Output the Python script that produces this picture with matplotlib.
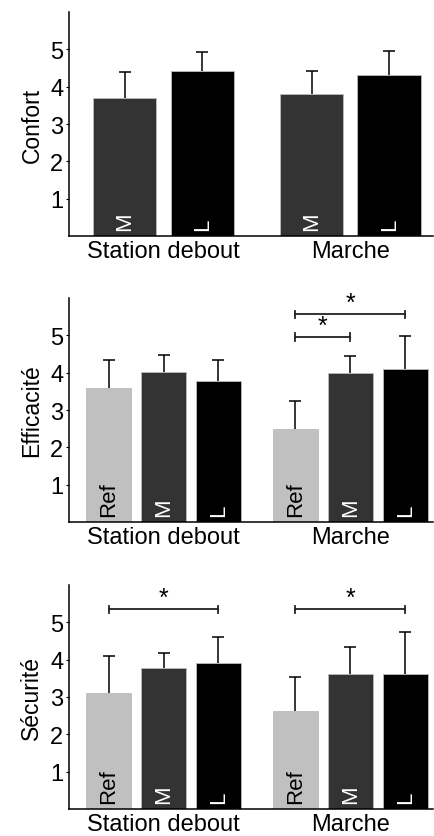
import numpy as np
import matplotlib.pyplot as plt

plt.rcParams['font.family'] = ['Liberation Sans', 'DejaVu Sans']

groupes = ['Station debout', 'Marche']
couleurs = {'Ref': '#c0c0c0', 'M': '#333333', 'L': '#000000'}
couleurs_txt = {'Ref': 'black', 'M': 'white', 'L': 'white'}

# Confort : M, L
confort_cond = ['M', 'L']
confort_moy = [[3.71, 4.42], [3.80, 4.31]]
confort_err = [[0.68, 0.51], [0.63, 0.65]]

# Efficacite : Ref, M, L
effic_cond = ['Ref', 'M', 'L']
effic_moy = [[3.60, 4.02, 3.78], [2.49, 4.00, 4.09]]
effic_err = [[0.74, 0.46, 0.56], [0.75, 0.45, 0.89]]
effic_sig = [(1, 0, 1, 4.96), (1, 0, 2, 5.56)]

# Securite : Ref, M, L
secu_cond = ['Ref', 'M', 'L']
secu_moy = [[3.10, 3.78, 3.92], [2.62, 3.62, 3.62]]
secu_err = [[1.01, 0.39, 0.69], [0.91, 0.71, 1.11]]
secu_sig = [(0, 0, 2, 5.35), (1, 0, 2, 5.35)]

panneaux = [
    ('Confort', confort_cond, confort_moy, confort_err, [], 0.34, 0.416),
    ('Efficacité', effic_cond, effic_moy, effic_err, effic_sig, 0.238, 0.294),
    ('Sécurité', secu_cond, secu_moy, secu_err, secu_sig, 0.238, 0.294),
]
bas = [0.7168, 0.3751, 0.0323]

fig = plt.figure(figsize=(4.34, 8.37), dpi=100)

for (nom, cond, moy, err, sig, larg, pas), b in zip(panneaux, bas):
    ax = fig.add_axes([0.159, b, 0.839, 0.2676])
    n = len(cond)
    pos = {}
    for g in range(len(groupes)):
        for i, c in enumerate(cond):
            x = g + (i - (n - 1) / 2) * pas
            pos[(g, i)] = x
            ax.bar(x, moy[g][i], width=larg, color=couleurs[c],
                   edgecolor='#bbbbbb', linewidth=0.6, zorder=2)
            eb = ax.errorbar(x, moy[g][i], yerr=[[0], [err[g][i]]], fmt='none',
                             ecolor='black', elinewidth=1.1, capsize=4,
                             capthick=1.1, zorder=1)
            eb[1][0].set_visible(False)
            ax.text(x, 0.16, c, rotation=90, ha='center', va='bottom',
                    color=couleurs_txt[c], fontsize=16, zorder=3)
    for g, i1, i2, y in sig:
        x1, x2 = pos[(g, i1)], pos[(g, i2)]
        ax.plot([x1, x2], [y, y], color='#222222', lw=1.3)
        ax.plot([x1, x1], [y - 0.1, y + 0.1], color='#222222', lw=1.3)
        ax.plot([x2, x2], [y - 0.1, y + 0.1], color='#222222', lw=1.3)
        ax.text((x1 + x2) / 2, y - 0.02, '*', ha='center', va='bottom',
                fontsize=18)
    ax.set_xlim(-0.506, 1.443)
    ax.set_ylim(0, 6)
    ax.set_yticks([1, 2, 3, 4, 5])
    ax.set_xticks([0, 1])
    ax.set_xticklabels(groupes, fontsize=17)
    ax.tick_params(axis='y', labelsize=17, length=2, pad=2)
    ax.tick_params(axis='x', length=0, pad=3)
    ax.set_ylabel(nom, fontsize=16.5, labelpad=5)
    ax.spines['top'].set_visible(False)
    ax.spines['right'].set_visible(False)
    ax.spines['left'].set_linewidth(1.1)
    ax.spines['bottom'].set_linewidth(1.1)

fig.savefig('out.png', dpi=100)
